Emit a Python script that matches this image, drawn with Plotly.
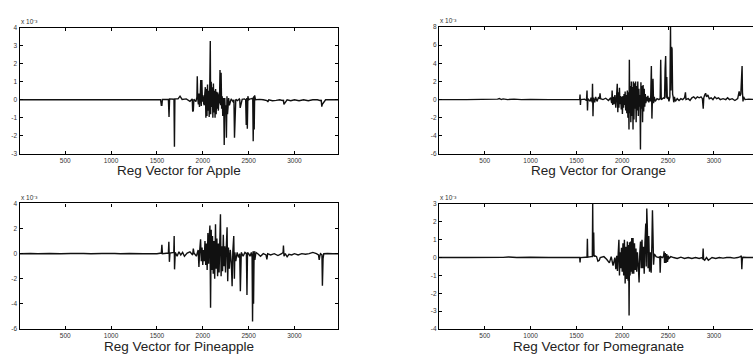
import plotly.graph_objects as go

# Sample index / regression weight (in units of 1e-3) for each fruit
apple_idx = [1, 400, 900, 1300, 1540, 1548, 1554, 1560, 1625, 1632, 1638, 1686, 1691, 1696, 1730, 1752,
             1762, 1775, 1820, 1860, 1885, 1890, 1897, 1903, 1925, 1936, 1940, 1945, 1952, 1958, 1964,
             1972, 1978, 1984, 1990, 1996, 2003, 2010, 2016, 2022, 2028, 2034, 2040, 2046, 2052, 2058,
             2064, 2070, 2076, 2082, 2086, 2092, 2098, 2104, 2110, 2116, 2122, 2128, 2134, 2140, 2146,
             2152, 2158, 2164, 2170, 2176, 2182, 2188, 2194, 2200, 2206, 2212, 2218, 2228, 2234, 2240,
             2246, 2252, 2258, 2264, 2270, 2276, 2282, 2290, 2310, 2330, 2340, 2346, 2360, 2380, 2398,
             2403, 2408, 2430, 2455, 2468, 2474, 2480, 2486, 2492, 2500, 2515, 2530, 2545, 2550, 2556,
             2561, 2566, 2575, 2620, 2660, 2700, 2710, 2720, 2760, 2800, 2840, 2875, 2880, 2885, 2920,
             2960, 3000, 3050, 3100, 3150, 3200, 3250, 3285, 3292, 3298, 3304, 3340, 3400, 3475]
apple_val = [0, 0, 0, 0, 0, -0.3, -0.3, 0.02, 0.02, -0.95, 0.05, 0.03, -2.6, 0.05, 0.05, 0.2,
             0.12, 0.02, 0.05, -0.08, 0.05, -0.65, -0.6, 0.03, -0.1, 0.15, 1.3, 0.1, -0.25, 0.35, -0.4,
             0.15, 1.1, -0.35, 1.1, -0.1, 0.25, -0.2, -0.3, 0.3, 0.7, -1.0, 0.6, -0.9, 0.85, -0.6,
             0.5, -0.95, 0.6, 3.25, -0.8, 1.0, -0.4, 0.7, -1.0, 0.9, -0.7, 0.5, -1.0, 0.6, -0.8,
             0.45, -0.5, 0.4, -0.6, 0.3, -0.2, 1.65, -0.3, 1.5, -0.5, 0.2, -0.9, 0.1, -2.5, 0.1,
             -0.8, -0.3, -2.1, 0.2, -0.8, -0.4, 0.1, -0.3, 0.05, -0.1, 0.0, -2.1, 0.02, -0.05, 0.05, 0.0,
             -0.45, 0.02, 0.05, 0.0, -1.4, 0.1, -1.6, 0.2, 0.0, 0.05, 0.05, 0.1, -2.3, 0.2,
             -1.65, 0.25, 0.0, 0.02, 0.0, -0.05, -0.12, 0.0, -0.05, -0.03, 0.0, -0.05, 0.0, -0.25, 0.0, -0.05,
             0.0, -0.05, 0.0, -0.05, 0.0, 0.0, -0.05, 0.0, -0.38, -0.25, 0.0, 0.0, 0.0, 0.0]

orange_idx = [1, 300, 640, 660, 680, 700, 750, 820, 900, 1000, 1200, 1500, 1536, 1540, 1544, 1548,
              1590, 1610, 1616, 1621, 1626, 1650, 1660, 1672, 1676, 1681, 1686, 1700, 1710, 1725, 1740,
              1752, 1758, 1764, 1790, 1820, 1850, 1875, 1885, 1890, 1896, 1902, 1910, 1920, 1930, 1940,
              1946, 1952, 1958, 1964, 1970, 1976, 1982, 1990, 1996, 2002, 2008, 2014, 2020, 2026, 2032,
              2038, 2044, 2050, 2056, 2062, 2068, 2074, 2078, 2082, 2088, 2094, 2100, 2106, 2112, 2118,
              2122, 2128, 2134, 2140, 2146, 2152, 2158, 2164, 2170, 2176, 2182, 2188, 2194, 2199, 2204,
              2210, 2216, 2222, 2228, 2234, 2240, 2246, 2252, 2258, 2264, 2270, 2280, 2290, 2300, 2310,
              2318, 2324, 2330, 2336, 2342, 2350, 2360, 2380, 2400, 2414, 2420, 2426, 2440, 2455, 2462,
              2468, 2474, 2480, 2486, 2492, 2500, 2510, 2520, 2527, 2532, 2538, 2544, 2550, 2556, 2562,
              2570, 2580, 2600, 2620, 2640, 2660, 2680, 2690, 2696, 2720, 2740, 2760, 2780, 2800, 2820,
              2840, 2860, 2875, 2884, 2890, 2900, 2910, 2920, 2935, 2950, 2970, 2990, 3010, 3030, 3050,
              3070, 3100, 3130, 3150, 3170, 3200, 3230, 3260, 3276, 3284, 3294, 3308, 3312, 3318, 3324,
              3340, 3380, 3475]
orange_val = [0, 0, 0.05, 0.12, 0.0, 0.08, 0.0, 0.05, 0.0, 0.02, 0.0, 0.0, 0.0, 0.55, -0.6, 0.0,
              0.05, -0.1, 1.0, -1.2, 0.1, -0.2, 0.2, -0.3, 1.75, -1.85, 0.2, -0.3, 0.3, -0.2, 0.2,
              0.1, 0.7, 0.1, 0.0, 0.15, -0.1, 0.2, -0.4, 1.0, -0.6, 0.3, -0.5, 0.5, -0.9, 0.6,
              1.75, -1.4, 0.8, -0.9, 1.3, -0.5, 0.4, -1.1, 0.3, -1.6, 0.4, -0.9, 0.6, -0.6, 0.9,
              -1.2, 0.5, -1.5, 1.0, -2.0, 0.8, -3.3, 4.4, -1.5, 1.5, -2.5, 2.0, -1.8, 1.4, -3.3,
              2.0, -2.2, 1.8, -1.0, 2.0, -2.5, 1.5, -1.2, 2.0, -1.8, 1.2, -0.8, 0.5, -5.5, 1.9,
              -1.0, 1.5, -2.5, 1.6, -1.3, 1.2, -0.8, 0.6, -0.4, 0.3, -0.2, 0.4, -0.3, 0.2, -0.2,
              3.7, -2.1, 0.2, 2.3, -0.4, 0.3, -0.2, 0.1, 0.0, 0.1, 4.4, 0.0, 0.1, 0.2, 0.1,
              3.4, 4.8, 0.2, 2.5, 0.1, 0.3, -0.2, 0.3, 8.0, 1.0, 5.8, 5.6, 0.6, 0.3, -0.3,
              0.3, -0.2, 0.1, -0.1, 0.1, 0.0, 0.2, 0.8, 0.0, 0.1, -0.1, 0.2, 0.3, 0.1, 0.3,
              0.2, 0.3, 0.1, -1.0, 0.2, 0.5, 0.7, 0.3, 0.5, 0.1, 0.2, 0.0, 0.3, 0.1, 0.2,
              0.0, 0.1, 0.0, 0.2, 0.0, 0.1, -0.1, 0.1, 0.9, 0.4, 0.6, 3.7, 0.8, -0.2, 0.3,
              0.0, 0.05, 0.0]

pineapple_idx = [1, 120, 200, 330, 450, 560, 640, 700, 780, 900, 1000, 1040, 1100, 1200, 1350, 1500,
                 1548, 1554, 1560, 1625, 1630, 1636, 1642, 1684, 1688, 1692, 1700, 1720, 1740, 1760,
                 1780, 1800, 1830, 1860, 1890, 1897, 1904, 1930, 1950, 1958, 1966, 1976, 1984, 1992,
                 2000, 2008, 2016, 2024, 2032, 2040, 2048, 2056, 2064, 2070, 2078, 2085, 2092, 2098,
                 2106, 2114, 2122, 2130, 2139, 2146, 2154, 2162, 2170, 2178, 2186, 2193, 2200, 2208,
                 2216, 2224, 2232, 2240, 2248, 2256, 2265, 2272, 2280, 2290, 2300, 2312, 2320, 2328,
                 2338, 2345, 2350, 2360, 2375, 2390, 2403, 2410, 2420, 2440, 2460, 2476, 2482, 2488,
                 2500, 2515, 2530, 2538, 2543, 2549, 2554, 2560, 2568, 2580, 2600, 2630, 2660, 2690,
                 2699, 2708, 2740, 2780, 2820, 2860, 2876, 2880, 2886, 2900, 2920, 2940, 2970, 3000,
                 3040, 3080, 3120, 3160, 3200, 3240, 3262, 3270, 3276, 3284, 3300, 3305, 3312, 3320,
                 3360, 3420, 3475]
pineapple_val = [0, 0.015, -0.01, 0.02, 0.0, 0.02, 0.01, 0.02, 0.0, 0.01, 0.02, 0.02, 0.0, 0.01, 0.0, 0.0,
                 0.05, 0.7, 0.0, 0.05, 0.95, -0.65, 0.05, 0.1, 1.4, -1.25, 0.1, -0.2, 0.15, -0.1,
                 0.1, -0.2, 0.05, 0.15, -0.1, 0.4, 0.05, -0.2, 0.3, -1.05, 0.2, 1.15, -0.6, 0.5,
                 -0.9, 0.3, -0.6, 1.0, -0.9, 0.8, -1.3, 1.65, -0.8, 1.2, 2.25, -4.3, 1.9, -1.3,
                 1.4, -1.6, 1.0, -2.0, 2.35, -1.2, 1.2, -1.8, 0.8, -1.5, 1.0, 3.15, -1.8, 0.6,
                 -1.4, 1.5, -1.0, 0.6, -1.5, 0.4, 2.1, -2.2, 0.5, -1.2, 0.3, -0.8, -2.6, 0.2,
                 1.4, -2.0, 0.1, -0.6, 0.1, -0.3, 0.0, -3.0, 0.1, -0.2, 0.1, 0.0, -3.3, 0.1,
                 0.0, -0.2, 0.1, -0.3, -5.4, 0.2, -4.0, 0.2, -0.5, 0.1, 0.0, -0.2, 0.0, -0.1,
                 -0.45, 0.0, -0.1, 0.0, -0.15, 0.0, 0.1, 0.65, -0.2, 0.0, -0.25, -0.05, -0.1, 0.0,
                 -0.1, 0.0, -0.05, 0.0, 0.1, 0.0, -0.1, -0.5, -0.2, 0.0, -0.1, -2.55, -0.4, 0.0,
                 0.02, 0.0, 0.0]

pomegranate_idx = [1, 300, 700, 760, 850, 1000, 1200, 1500, 1536, 1540, 1544, 1600, 1616, 1620, 1624,
                   1660, 1674, 1678, 1682, 1686, 1689, 1693, 1700, 1720, 1735, 1750, 1760, 1800, 1830,
                   1860, 1880, 1900, 1920, 1930, 1940, 1948, 1956, 1964, 1970, 1976, 1984, 1992, 2000,
                   2008, 2016, 2024, 2032, 2040, 2048, 2056, 2064, 2070, 2075, 2080, 2086, 2092, 2098,
                   2104, 2110, 2118, 2126, 2134, 2142, 2150, 2158, 2166, 2176, 2184, 2192, 2200, 2208,
                   2216, 2224, 2232, 2240, 2248, 2257, 2262, 2268, 2274, 2282, 2290, 2298, 2306, 2316,
                   2324, 2330, 2336, 2342, 2350, 2370, 2395, 2410, 2414, 2420, 2440, 2452, 2457, 2462,
                   2470, 2478, 2486, 2494, 2502, 2510, 2530, 2560, 2600, 2640, 2680, 2720, 2760, 2800,
                   2840, 2870, 2878, 2883, 2888, 2900, 2920, 2940, 2980, 3020, 3060, 3100, 3140, 3180,
                   3220, 3260, 3290, 3300, 3305, 3309, 3313, 3320, 3360, 3420, 3475]
pomegranate_val = [0, 0.0, 0.01, 0.03, 0.0, 0.02, 0.0, 0.0, 0.0, -0.27, 0.0, 0.02, 0.02, 1.05, 0.02,
                   0.05, 0.05, 3.0, 0.1, 0.2, 1.4, 0.05, 0.1, 0.05, -0.2, -0.15, 0.0, 0.05, -0.1,
                   -0.3, 0.05, -0.45, 0.0, -0.65, 0.1, -0.75, 0.2, 1.0, -1.0, 0.3, -0.6, 0.55, -0.8,
                   0.8, -1.0, 1.0, -1.45, 0.6, -1.2, 0.9, -1.3, 0.7, -3.25, 0.85, -1.0, 0.9, -0.8,
                   1.1, -0.9, 1.1, -0.9, 0.8, -0.7, 0.5, -0.8, 0.3, -0.5, -1.4, 0.3, 0.9, -0.6,
                   1.0, -0.6, 0.6, -0.9, 0.8, 1.9, -0.5, 2.75, 1.7, -0.6, 1.2, -0.8, 0.3, -0.85,
                   0.8, 2.65, 1.2, -0.4, 0.2, 0.05, 0.0, 0.05, -0.85, 0.05, 0.0, 0.1, 0.35, -0.3,
                   0.25, -0.3, 0.2, -0.25, 0.1, -0.05, 0.05, 0.0, -0.05, 0.02, -0.05, 0.0, -0.05, 0.0,
                   -0.05, 0.0, -0.1, 0.5, -0.1, -0.15, 0.0, -0.15, 0.0, -0.05, 0.0, -0.03, 0.0, 0.0,
                   -0.03, 0.0, 0.05, 0.1, -0.65, -0.2, 0.0, 0.02, 0.0, 0.0, 0.0]

titles = ["Reg Vector for Apple", "Reg Vector for Orange",
          "Reg Vector for Pineapple", "Reg Vector for Pomegranate"]
x_ticks = [500, 1000, 1500, 2000, 2500, 3000]
apple_yticks = [-3, -2, -1, 0, 1, 2, 3, 4]
orange_yticks = [-6, -4, -2, 0, 2, 4, 6, 8]
pineapple_yticks = [-6, -4, -2, 0, 2, 4]
pomegranate_yticks = [-4, -3, -2, -1, 0, 1, 2, 3]
scale_label = "x 10\u207b\u00b3"

W, H = 753, 355
FONT = "Liberation Sans, Arial, Helvetica, sans-serif"


def px_x(p):
    return p / W


def px_y(p):
    return 1 - p / H


# panel geometry in pixels: left, right, top, bottom, x-range end, show right frame
panels = [
    dict(idx=apple_idx, val=apple_val, yt=apple_yticks, l=19.5, r=338, t=24, b=153, xend=3475, right=True),
    dict(idx=orange_idx, val=orange_val, yt=orange_yticks, l=439, r=753, t=23.5, b=153, xend=3427, right=False),
    dict(idx=pineapple_idx, val=pineapple_val, yt=pineapple_yticks, l=19.5, r=338, t=203.5, b=331.5, xend=3475, right=True),
    dict(idx=pomegranate_idx, val=pomegranate_val, yt=pomegranate_yticks, l=439, r=753, t=204, b=331.5, xend=3427, right=False),
]

fig = go.Figure()
layout = dict(
    width=W, height=H, margin=dict(l=0, r=0, t=0, b=0),
    paper_bgcolor="white", plot_bgcolor="white", showlegend=False,
    font=dict(family=FONT, color="#222"),
)
annotations = []
title_y = [170, 170, 349.5, 349.5]
for i, p in enumerate(panels):
    n = i + 1
    xa = "xaxis" if n == 1 else f"xaxis{n}"
    ya = "yaxis" if n == 1 else f"yaxis{n}"
    xr = "x" if n == 1 else f"x{n}"
    yr = "y" if n == 1 else f"y{n}"
    fig.add_trace(go.Scatter(x=p["idx"], y=p["val"], mode="lines", xaxis=xr, yaxis=yr,
                             line=dict(color="#111", width=1.4, simplify=False), hoverinfo="skip"))
    layout[xa] = dict(
        domain=[px_x(p["l"]), px_x(p["r"])], anchor=yr, range=[1, p["xend"]],
        tickvals=x_ticks, ticktext=[str(v) for v in x_ticks], ticks="inside", ticklen=3,
        tickcolor="black", tickwidth=1, showline=True, linecolor="black", linewidth=1.2,
        mirror="ticks", showgrid=False, zeroline=False, tickfont=dict(size=6.5, color="#333"),
    )
    layout[ya] = dict(
        domain=[px_y(p["b"]), px_y(p["t"])], anchor=xr, range=[p["yt"][0], p["yt"][-1]],
        tickvals=p["yt"], ticktext=[str(v) for v in p["yt"]], ticks="inside", ticklen=3,
        tickcolor="black", tickwidth=1, showline=True, linecolor="black", linewidth=1.2,
        mirror="ticks" if p["right"] else False, showgrid=False, zeroline=False,
        tickfont=dict(size=6.5, color="#333"),
    )
    # full (uncropped) axis width used for centering the caption
    full_r = p["l"] + (3475 - 1) * (p["r"] - p["l"]) / (p["xend"] - 1)
    annotations.append(dict(
        text=titles[i], xref="paper", yref="paper", x=px_x((p["l"] + full_r) / 2),
        y=px_y(title_y[i]), xanchor="center", yanchor="middle", showarrow=False,
        font=dict(size=13.5, color="#222", family=FONT),
    ))
    annotations.append(dict(
        text=scale_label, xref="paper", yref="paper", x=px_x(p["l"] - 1),
        y=px_y(p["t"] - 1), xanchor="left", yanchor="bottom", showarrow=False,
        font=dict(size=6.5, color="#333", family=FONT),
    ))

layout["annotations"] = annotations
fig.update_layout(**layout)
fig.write_html("out.html")
